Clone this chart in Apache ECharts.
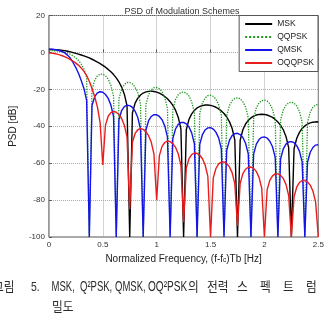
<!DOCTYPE html>
<html>
<head>
<meta charset="utf-8">
<script src="https://cdn.jsdelivr.net/npm/echarts@6/dist/echarts.min.js"></script>
<style>
  html, body { margin: 0; padding: 0; background: #fff; }
  #main { width: 328px; height: 316px; }
</style>
</head>
<body>
<div id="main"></div>
<script>
  // normalized frequency (f-fc)Tb
  var freq = [
    0, 0.025, 0.05, 0.075, 0.1, 0.125, 0.15, 0.175, 0.2, 0.225,
    0.25, 0.275, 0.3, 0.325, 0.35, 0.375, 0.4, 0.425, 0.45, 0.475,
    0.5, 0.525, 0.55, 0.575, 0.6, 0.625, 0.65, 0.675, 0.7, 0.725,
    0.75, 0.775, 0.8, 0.825, 0.85, 0.875, 0.9, 0.925, 0.95, 0.975,
    1, 1.025, 1.05, 1.075, 1.1, 1.125, 1.15, 1.175, 1.2, 1.225,
    1.25, 1.275, 1.3, 1.325, 1.35, 1.375, 1.4, 1.425, 1.45, 1.475,
    1.5, 1.525, 1.55, 1.575, 1.6, 1.625, 1.65, 1.675, 1.7, 1.725,
    1.75, 1.775, 1.8, 1.825, 1.85, 1.875, 1.9, 1.925, 1.95, 1.975,
    2, 2.025, 2.05, 2.075, 2.1, 2.125, 2.15, 2.175, 2.2, 2.225,
    2.25, 2.275, 2.3, 2.325, 2.35, 2.375, 2.4, 2.425, 2.45, 2.475,
    2.5
  ];

  // PSD [dB]
  var msk = [
    1.6, 1.6, 1.5, 1.4, 1.3, 1.1, 0.9, 0.6, 0.3, -0.1,
    -0.5, -0.9, -1.4, -1.9, -2.4, -3.0, -3.7, -4.4, -5.2, -6.1,
    -7.0, -8.0, -9.2, -10.5, -12.0, -13.8, -16.0, -18.8, -22.6, -29.0,
    -100, -32.8, -27.5, -24.8, -23.1, -22.0, -21.4, -21.1, -21.0, -21.2,
    -21.5, -22.1, -22.9, -23.9, -25.1, -26.7, -28.7, -31.3, -35.1, -41.4,
    -100, -41.9, -36.3, -33.3, -31.4, -30.1, -29.3, -28.8, -28.5, -28.5,
    -28.7, -29.1, -29.7, -30.6, -31.7, -33.1, -35.0, -37.5, -41.1, -47.3,
    -100, -47.6, -41.9, -38.8, -36.8, -35.5, -34.5, -33.9, -33.6, -33.5,
    -33.6, -33.9, -34.5, -35.2, -36.3, -37.7, -39.5, -41.9, -45.5, -51.6,
    -100, -52.2, -46.5, -43.3, -41.2, -39.8, -38.8, -38.2, -37.8, -37.6,
    -37.7
  ];
  var qqpsk = [
    1.0, 1.0, 0.9, 0.8, 0.6, 0.3, 0.0, -0.4, -1.0, -1.9,
    -3.0, -4.4, -6.3, -9.0, -13.5, -100, -20.2, -15.1, -12.7, -11.8,
    -11.8, -12.7, -14.5, -17.8, -23.8, -100, -25.1, -19.8, -17.4, -16.3,
    -16.3, -17.1, -18.8, -22.0, -27.9, -100, -28.2, -22.8, -20.3, -19.1,
    -19.0, -19.7, -21.3, -24.4, -30.2, -100, -30.9, -25.5, -22.9, -21.7,
    -21.5, -22.1, -23.7, -26.7, -32.5, -100, -32.8, -27.3, -24.7, -23.4,
    -23.2, -23.8, -25.3, -28.3, -34.0, -100, -34.3, -28.8, -26.1, -24.9,
    -24.6, -25.1, -26.7, -29.6, -35.3, -100, -35.5, -30.0, -27.4, -26.1,
    -25.8, -26.3, -27.8, -30.8, -36.5, -100, -36.7, -31.2, -28.6, -27.3,
    -27.0, -27.5, -29.0, -32.0, -37.7, -100, -37.9, -32.4, -29.8, -28.5,
    -28.2
  ];
  var qmsk = [
    1.8, 1.75, 1.6, 1.3, 0.9, 0.4, -0.4, -1.6, -3.2, -5.6,
    -8.2, -11.4, -15.2, -19.5, -26.0, -100, -28.8, -24.0, -21.9, -21.3,
    -21.6, -22.8, -24.9, -28.5, -34.8, -100, -36.5, -31.5, -29.4, -28.6,
    -28.8, -29.8, -31.9, -35.3, -41.5, -100, -42.2, -37.0, -34.7, -33.7,
    -33.8, -34.7, -36.5, -39.8, -45.8, -100, -46.7, -41.5, -39.0, -38.0,
    -37.9, -38.7, -40.4, -43.6, -49.5, -100, -49.8, -44.5, -42.0, -40.9,
    -40.8, -41.5, -43.2, -46.3, -52.2, -100, -53.0, -47.7, -45.1, -44.0,
    -43.8, -44.5, -46.1, -49.2, -55.0, -100, -55.1, -49.7, -47.2, -46.0,
    -45.8, -46.4, -48.1, -51.1, -56.9, -100, -57.7, -52.3, -49.7, -48.5,
    -48.3, -48.9, -50.5, -53.5, -59.3, -100, -59.5, -54.1, -51.5, -50.2,
    -50.0
  ];
  var oqqpsk = [
    -0.3, -0.4, -0.6, -0.9, -1.3, -1.8, -2.4, -3.1, -3.9, -4.8,
    -5.8, -7.0, -8.5, -10.3, -12.6, -15.6, -19.5, -24.0, -29.5, -38.0,
    -61, -39.4, -34.6, -32.6, -32.0, -32.4, -33.6, -35.8, -39.4, -45.8,
    -85, -48.7, -43.9, -41.9, -41.3, -41.7, -42.9, -45.1, -48.7, -55.1,
    -80, -55.9, -50.9, -48.8, -48.0, -48.3, -49.4, -51.4, -54.9, -61.1,
    -92, -62.6, -57.6, -55.4, -54.5, -54.7, -55.7, -57.6, -61.0, -67.2,
    -100, -68.1, -62.9, -60.4, -59.4, -59.4, -60.2, -62.0, -65.1, -71.1,
    -94, -71.0, -65.7, -63.3, -62.2, -62.1, -62.8, -64.5, -67.7, -73.6,
    -100, -74.5, -69.3, -66.9, -65.8, -65.8, -66.6, -68.3, -71.5, -77.5,
    -100, -78.2, -72.9, -70.5, -69.4, -69.4, -70.2, -71.9, -75.1, -81.0,
    -100
  ];

  var seriesNames = ['MSK', 'QQPSK', 'QMSK', 'OQQPSK'];
  var xTicks = [0, 0.5, 1, 1.5, 2, 2.5];
  var yTicks = [-100, -80, -60, -40, -20, 0, 20];

  var curves = [msk, qqpsk, qmsk, oqqpsk];
  var colors = ['#000000', '#1e961e', '#1414e6', '#e81e1e'];
  var font = 'Liberation Sans, Arial, sans-serif';
  var krFont = 'Liberation Sans, Noto Sans CJK KR, sans-serif';

  // caption words of the scanned figure (squeezed horizontally)
  function word(text, x, y, sx, size) {
    return {
      type: 'text', x: x, y: y, scaleX: sx,
      style: { text: text, fontSize: size || 13, fontFamily: krFont, fill: '#2a2a2a', verticalAlign: 'middle' }
    }
  }

  var chart = echarts.init(document.getElementById('main'))
  chart.setOption({
    backgroundColor: '#ffffff',
    animation: false,
    title: {
      text: 'PSD of Modulation Schemes',
      left: 177,
      top: 2,
      textAlign: 'center',
      textStyle: { fontSize: 9, fontWeight: 'normal', color: '#333', fontFamily: font }
    },
    legend: {
      data: seriesNames,
      orient: 'vertical',
      right: 10,
      top: 15.5,
      itemWidth: 27,
      itemHeight: 8,
      itemGap: 4,
      padding: [4, 4, 4, 5],
      backgroundColor: '#fff',
      borderColor: '#555',
      borderWidth: 1,
      itemStyle: { opacity: 0 }, // line sample only, no marker
      textStyle: { fontSize: 8.5, color: '#222', fontFamily: font }
    },
    grid: {
      left: 36.7,
      top: 15.5,
      width: 281.6,
      height: 221.5,
      show: true,
      borderColor: '#555',
      borderWidth: 1
    },
    xAxis: {
      type: 'value',
      min: xTicks[0],
      max: xTicks[xTicks.length - 1],
      interval: xTicks[1] - xTicks[0],
      name: '{a|Normalized Frequency, (f-f}{s|c}{a|)Tb [Hz]}',
      nameLocation: 'middle',
      nameGap: 16,
      nameTextStyle: {
        rich: {
          a: { fontSize: 10, color: '#222', fontFamily: font },
          s: { fontSize: 6.5, color: '#222', fontFamily: font, verticalAlign: 'bottom' }
        }
      },
      axisLine: { show: false },
      axisTick: { inside: true, length: 3, lineStyle: { color: '#555' } },
      axisLabel: { fontSize: 8, color: '#333', margin: 4, fontFamily: font },
      splitLine: { lineStyle: { type: 'dotted', color: '#a8a8a8' } }
    },
    yAxis: {
      type: 'value',
      min: yTicks[0],
      max: yTicks[yTicks.length - 1],
      interval: yTicks[1] - yTicks[0],
      name: 'PSD [dB]',
      nameLocation: 'middle',
      nameGap: 30,
      nameTextStyle: { fontSize: 10, color: '#222', fontFamily: font },
      axisLine: { show: false },
      axisTick: { inside: true, length: 3, lineStyle: { color: '#555' } },
      axisLabel: { fontSize: 8, color: '#333', margin: 4, fontFamily: font },
      splitLine: { lineStyle: { type: 'dotted', color: '#a8a8a8' } }
    },
    series: seriesNames.map(function (name, k) {
      return {
        name: name,
        type: 'line',
        symbol: 'none',
        silent: true,
        clip: true,
        data: freq.map(function (f, i) { return [f, curves[k][i]] }),
        lineStyle: { color: colors[k], width: k === 1 ? 1.3 : 1.4, type: k === 1 ? 'dotted' : 'solid' },
        itemStyle: { color: colors[k] }
      }
    }),
    graphic: [
      word('그림', -7, 287, 0.9),
      word('5.', 31, 287, 0.8),
      word('MSK,', 51.5, 287, 0.68, 14),
      word('Q²PSK,', 80, 287, 0.68, 14),
      word('QMSK,', 115, 287, 0.68, 14),
      word('OQ²PSK', 148, 287, 0.72, 14),
      word('의', 188, 287, 0.9),
      word('전력', 207, 287, 0.9),
      word('스', 237, 287, 0.9),
      word('펙', 260, 287, 0.9),
      word('트', 283, 287, 0.9),
      word('럼', 306, 287, 0.9),
      word('밀도', 52, 307, 0.9)
    ]
  })
</script>
</body>
</html>
